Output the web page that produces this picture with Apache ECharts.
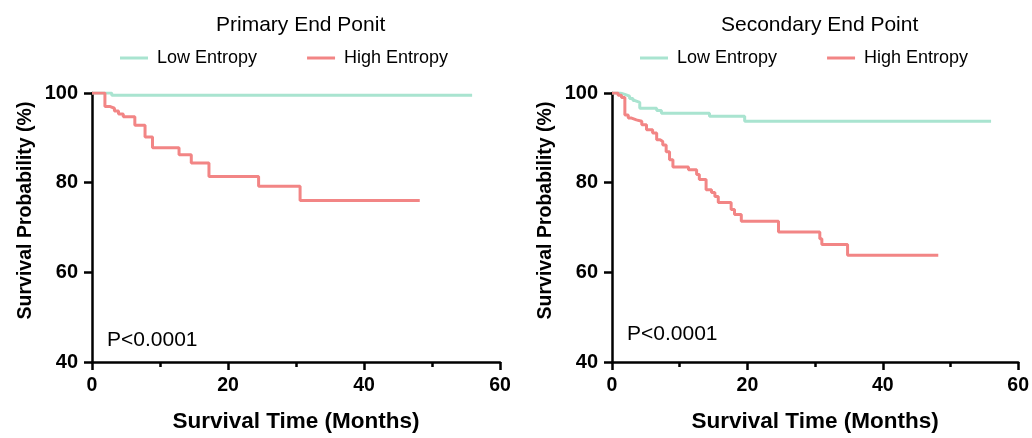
<!DOCTYPE html>
<html>
<head>
<meta charset="utf-8">
<script src="https://cdn.jsdelivr.net/npm/echarts@6/dist/echarts.min.js"></script>
<style>
  html, body { margin: 0; padding: 0; background: #fff; }
  #chart { width: 1032px; height: 438px; }
</style>
</head>
<body>
<div id="chart"></div>
<script>
// Kaplan-Meier 曲线数据
var primaryLowTime = [0, 2.9, 55.9];
var primaryLowSurv = [100, 99.5, 99.5];
var primaryHighTime = [0, 1.9, 2.6, 3.3, 3.9, 4.6, 6.3, 7.8, 8.9, 12.8, 14.6, 17.2, 24.5, 30.6, 48.2];
var primaryHighSurv = [100, 97.0, 96.6, 96.0, 95.3, 94.7, 92.8, 90.2, 87.8, 86.2, 84.4, 81.4, 79.2, 76.0, 76.0];

var secondaryLowTime = [0, 1.2, 1.9, 2.6, 3.1, 3.4, 4.1, 6.6, 7.3, 14.4, 19.6, 56];
var secondaryLowSurv = [100, 99.7, 99.3, 98.8, 98.3, 97.9, 96.6, 96.1, 95.5, 94.8, 93.7, 93.7];
var secondaryHighTime = [0, 0.9, 1.4, 1.9, 2.4, 2.9, 3.6, 4.4, 5.1, 6.0, 6.6, 7.1, 7.5, 8.0, 8.5, 9.0,
  11.3, 12.5, 12.9, 13.9, 14.7, 15.2, 15.7, 17.6, 18.1, 19.1, 24.6, 30.7, 31.0, 34.8, 48.2];
var secondaryHighSurv = [100, 99.5, 99.0, 95.1, 94.4, 94.0, 93.7, 92.9, 91.8, 91.1, 89.6, 89.2, 88.4, 86.9, 85.1, 83.5,
  82.9, 81.8, 80.7, 78.4, 77.8, 76.9, 75.6, 74.0, 72.9, 71.4, 69.0, 67.5, 66.2, 63.8, 63.8];

var xTicks = [0, 20, 40, 60];
var yTicks = [40, 60, 80, 100];
var groupNames = ['Low Entropy', 'High Entropy'];
var panelTitles = ['Primary End Ponit', 'Secondary End Point'];
var pValues = ['P<0.0001', 'P<0.0001'];

var lowColor = '#a9e4d0';
var highColor = '#f28585';
var font = '"Liberation Sans", Arial, Helvetica, sans-serif';

function zip(t, s) {
  return t.map(function (v, i) { return [v, s[i]]; });
}

function makeX(idx) {
  return {
    gridIndex: idx,
    type: 'value',
    min: xTicks[0],
    max: xTicks[xTicks.length - 1],
    interval: 20,
    name: 'Survival Time (Months)',
    nameLocation: 'middle',
    nameGap: 48,
    nameTextStyle: { fontFamily: font, fontWeight: 'bold', fontSize: 22.5, color: '#000' },
    axisLine: { show: true, lineStyle: { color: '#000', width: 2.5 } },
    axisTick: { show: true, length: 8, lineStyle: { color: '#000', width: 2.5 } },
    minorTick: { show: true, splitNumber: 2, length: 5, lineStyle: { color: '#000', width: 2.5 } },
    axisLabel: { margin: 14, fontFamily: font, fontWeight: 'bold', fontSize: 19.5, color: '#000' },
    splitLine: { show: false },
    minorSplitLine: { show: false }
  };
}

function makeY(idx) {
  return {
    gridIndex: idx,
    type: 'value',
    min: yTicks[0],
    max: yTicks[yTicks.length - 1],
    interval: 20,
    name: 'Survival Probability (%)',
    nameLocation: 'middle',
    nameGap: 56,
    nameTextStyle: { fontFamily: font, fontWeight: 'bold', fontSize: 19.5, color: '#000', padding: [0, 0, 0, 34] },
    axisLine: { show: true, lineStyle: { color: '#000', width: 2.5 } },
    axisTick: { show: true, length: 8, lineStyle: { color: '#000', width: 2.5 } },
    axisLabel: { margin: 14, fontFamily: font, fontWeight: 'bold', fontSize: 20, color: '#000' },
    splitLine: { show: false }
  };
}

function makeLine(name, data, color, idx) {
  return {
    name: name,
    type: 'line',
    step: 'end',
    xAxisIndex: idx,
    yAxisIndex: idx,
    showSymbol: false,
    symbol: 'none',
    data: data,
    lineStyle: { color: color, width: 3 },
    itemStyle: { color: color },
    emphasis: { disabled: true }
  };
}

function makeLegend(left) {
  return {
    data: groupNames,
    left: left,
    top: 44,
    icon: 'rect',
    itemWidth: 28,
    itemHeight: 3,
    itemGap: 50,
    textStyle: { fontFamily: font, fontSize: 18, color: '#000', padding: [0, 0, 0, 4] }
  };
}

var chart = echarts.init(document.getElementById('chart'));
var option = {
  animation: false,
  backgroundColor: '#fff',
  title: [
    { text: panelTitles[0], left: 211, top: 10, textStyle: { fontFamily: font, fontWeight: 'normal', fontSize: 21, color: '#000' } },
    { text: panelTitles[1], left: 716, top: 10, textStyle: { fontFamily: font, fontWeight: 'normal', fontSize: 21, color: '#000' } }
  ],
  legend: [makeLegend(115), makeLegend(635)],
  grid: [
    { left: 92, top: 93, width: 408, height: 272 },
    { left: 612, top: 93, width: 408, height: 272 }
  ],
  xAxis: [makeX(0), makeX(1)],
  yAxis: [makeY(0), makeY(1)],
  graphic: [
    { type: 'text', left: 107, top: 330, style: { text: pValues[0], font: '21px ' + font, fill: '#000' } },
    { type: 'text', left: 627, top: 324, style: { text: pValues[1], font: '21px ' + font, fill: '#000' } }
  ],
  series: [
    makeLine(groupNames[0], zip(primaryLowTime, primaryLowSurv), lowColor, 0),
    makeLine(groupNames[1], zip(primaryHighTime, primaryHighSurv), highColor, 0),
    makeLine(groupNames[0], zip(secondaryLowTime, secondaryLowSurv), lowColor, 1),
    makeLine(groupNames[1], zip(secondaryHighTime, secondaryHighSurv), highColor, 1)
  ]
};
chart.setOption(option);
</script>
</body>
</html>
